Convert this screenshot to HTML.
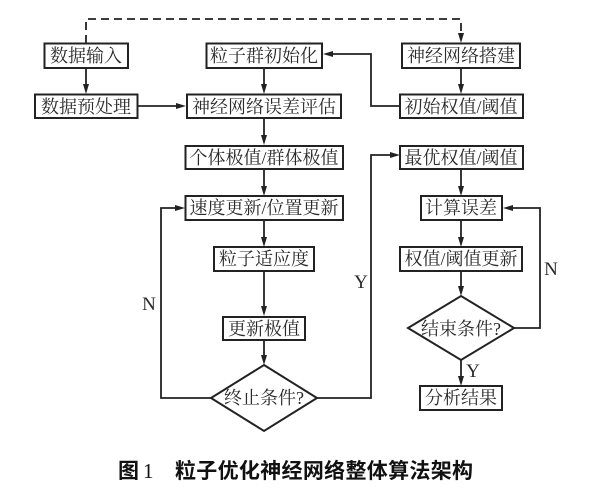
<!DOCTYPE html>
<html>
<head>
<meta charset="utf-8">
<style>
html,body{margin:0;padding:0;background:#fff;width:600px;height:497px;overflow:hidden}
svg{display:block;filter:blur(0.35px)}
text{font-family:"Liberation Serif","Noto Serif CJK SC",serif;font-size:18px;fill:#2a2a2a;text-anchor:middle}
.l{font-size:19px}
.c{font-family:"Liberation Sans","Noto Sans CJK SC",sans-serif;font-size:21px;font-weight:700;fill:#111;text-anchor:start}
rect,polygon.d{fill:#fff;stroke:#222;stroke-width:2}
path.w{fill:none;stroke:#222;stroke-width:1.8}
polygon.a{fill:#222}
</style>
</head>
<body>
<svg width="600" height="497" viewBox="0 0 600 497" xmlns="http://www.w3.org/2000/svg">
<rect x="0" y="0" width="600" height="497" style="fill:#fff;stroke:none"/>
<!-- connectors -->
<path class="w" d="M86 43V19H461V36" stroke-dasharray="8 5" fill="none"/>
<path class="w" d="M86 68V87"/>
<path class="w" d="M137 106H178"/>
<path class="w" d="M264 68V87"/>
<path class="w" d="M264 118V138"/>
<path class="w" d="M264 169V188"/>
<path class="w" d="M264 220V239"/>
<path class="w" d="M264 271V309"/>
<path class="w" d="M264 340V357"/>
<path class="w" d="M461 68V87"/>
<path class="w" d="M400 106H371V54H332"/>
<path class="w" d="M461 169V188"/>
<path class="w" d="M461 220V239"/>
<path class="w" d="M461 271V288"/>
<path class="w" d="M461 360V378"/>
<path class="w" d="M317 398H371V155H391"/>
<path class="w" d="M211 398H161V208H176"/>
<path class="w" d="M514 328H540V208H512"/>
<!-- arrowheads -->
<polygon class="a" points="461,43 458,33 464,33"/>
<polygon class="a" points="86,94 83,84 89,84"/>
<polygon class="a" points="186,106 176,103 176,109"/>
<polygon class="a" points="264,94 261,84 267,84"/>
<polygon class="a" points="264,145 261,135 267,135"/>
<polygon class="a" points="264,196 261,186 267,186"/>
<polygon class="a" points="264,247 261,237 267,237"/>
<polygon class="a" points="264,316 261,306 267,306"/>
<polygon class="a" points="264,365 261,355 267,355"/>
<polygon class="a" points="461,94 458,84 464,84"/>
<polygon class="a" points="323,54 333,51 333,57"/>
<polygon class="a" points="400,155 390,152 390,158"/>
<polygon class="a" points="185,208 175,205 175,211"/>
<polygon class="a" points="503,208 513,205 513,211"/>
<polygon class="a" points="461,196 458,186 464,186"/>
<polygon class="a" points="461,247 458,237 464,237"/>
<polygon class="a" points="461,296 458,286 464,286"/>
<polygon class="a" points="461,386 458,376 464,376"/>
<!-- boxes -->
<rect x="44.5" y="43.5" width="83.5" height="24.5"/>
<rect x="35" y="94.5" width="102.5" height="23.5"/>
<rect x="206.5" y="43.5" width="115.5" height="24.5"/>
<rect x="187" y="94.5" width="154" height="23.5"/>
<rect x="185.5" y="146" width="157.5" height="23"/>
<rect x="185.5" y="196" width="157.5" height="24"/>
<rect x="214" y="247" width="100" height="24"/>
<rect x="223" y="317" width="82" height="23"/>
<polygon class="d" points="264,365 317,398 264,431 211,398"/>
<rect x="402" y="43.5" width="118" height="24.5"/>
<rect x="400" y="94.5" width="123" height="23.5"/>
<rect x="400" y="146" width="123" height="23"/>
<rect x="421" y="196" width="81" height="24"/>
<rect x="400" y="247" width="122" height="24"/>
<polygon class="d" points="461,296 514,328 461,360 408,328"/>
<rect x="420" y="386" width="82" height="24"/>
<!-- labels -->
<text x="86" y="62">数据输入</text>
<text x="86" y="113">数据预处理</text>
<text x="264" y="62">粒子群初始化</text>
<text x="264" y="113">神经网络误差评估</text>
<text x="264" y="164">个体极值/群体极值</text>
<text x="264" y="214">速度更新/位置更新</text>
<text x="264" y="265">粒子适应度</text>
<text x="264" y="335">更新极值</text>
<text x="264" y="404">终止条件?</text>
<text x="461" y="62">神经网络搭建</text>
<text x="461" y="113">初始权值/阈值</text>
<text x="461" y="164">最优权值/阈值</text>
<text x="461" y="214">计算误差</text>
<text x="461" y="265">权值/阈值更新</text>
<text x="461" y="335">结束条件?</text>
<text x="461" y="404">分析结果</text>
<text class="l" x="149" y="310">N</text>
<text class="l" x="361" y="288">Y</text>
<text class="l" x="551" y="275">N</text>
<text class="l" x="473" y="377">Y</text>
<text class="c" x="118" y="478">图</text>
<text class="c" x="143" y="478" style="font-family:'Liberation Serif',serif;font-weight:400">1</text>
<text class="c" x="175" y="478" textLength="298" lengthAdjust="spacing">粒子优化神经网络整体算法架构</text>
</svg>
</body>
</html>
